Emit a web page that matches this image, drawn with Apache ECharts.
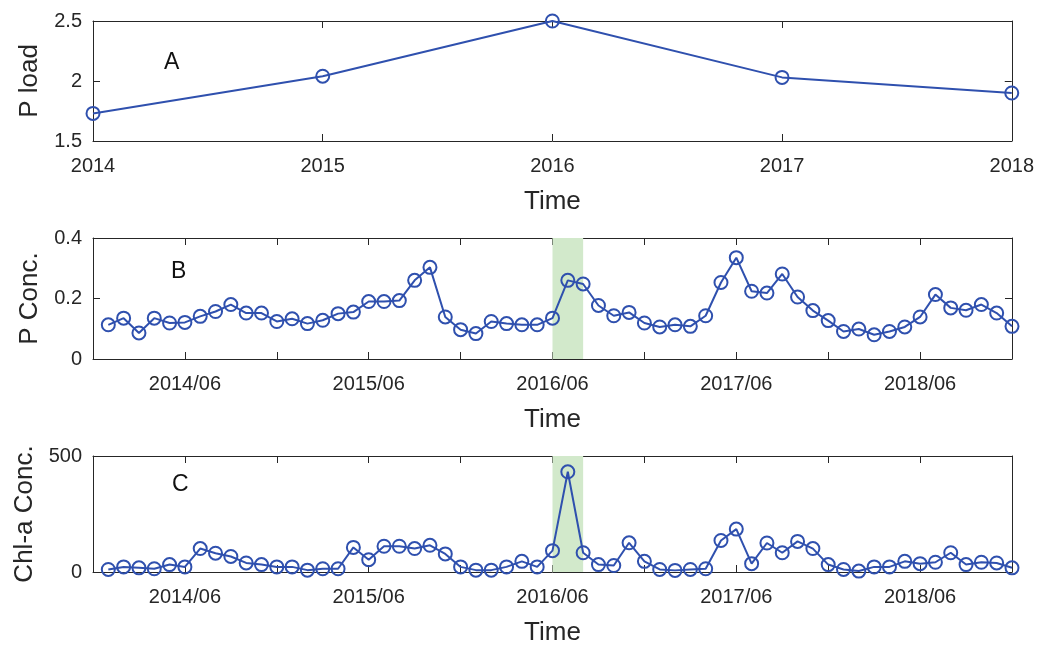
<!DOCTYPE html>
<html>
<head>
<meta charset="utf-8">
<script src="https://cdn.jsdelivr.net/npm/echarts@6/dist/echarts.min.js"></script>
<style>
html,body{margin:0;padding:0;background:#fff;}
#chart{width:1037px;height:647px;}
</style>
</head>
<body>
<div id="chart"></div>
<script>
// ---- data ----
const years = [2014, 2015, 2016, 2017, 2018];
const pLoad = [1.73, 2.04, 2.50, 2.03, 1.90];

// monthly values, Jan 2014 .. Dec 2018
const pConc = [
  0.113, 0.135, 0.086, 0.135, 0.119, 0.121, 0.141, 0.157, 0.180, 0.152,
  0.152, 0.124, 0.133, 0.117, 0.128, 0.150, 0.155, 0.190, 0.190, 0.193,
  0.260, 0.303, 0.139, 0.097, 0.084, 0.124, 0.117, 0.113, 0.113, 0.135,
  0.260, 0.248, 0.177, 0.143, 0.154, 0.119, 0.106, 0.113, 0.108, 0.143,
  0.253, 0.335, 0.224, 0.218, 0.281, 0.205, 0.160, 0.127, 0.091, 0.099,
  0.080, 0.091, 0.106, 0.139, 0.213, 0.169, 0.161, 0.180, 0.152, 0.108
];
const chlConc = [
  11, 22, 18, 14, 32, 22, 101, 81, 67, 39,
  32, 22, 22, 8, 14, 14, 106, 53, 111, 111,
  101, 115, 78, 22, 8, 8, 22, 46, 22, 92,
  432, 83, 32, 28, 126, 46, 11, 7, 11, 14,
  136, 185, 36, 125, 83, 132, 101, 32, 11, 4,
  22, 22, 46, 36, 42, 83, 32, 42, 39, 18
];
// x positions are months since Dec 2013
const monthTickLabels = ['2014/06', '2015/06', '2016/06', '2017/06', '2018/06'];
const bandMonths = [30, 32]; // Jun 2016 .. Aug 2016
const yTicksA = ['1.5', '2', '2.5'];
const yTicksB = ['0', '0.2', '0.4'];
const yTicksC = ['0', '500'];

// ---- styles ----
const FONT = 'Liberation Sans, Arial, sans-serif';
const AX = '#262626';
const BLUE = '#2F50AE';

const grids = [
  {left: 93, top: 21, width: 919, height: 120},
  {left: 93, top: 238, width: 919, height: 121},
  {left: 93, top: 456, width: 919, height: 120}
];

function xBottom(gi, cfg) {
  return Object.assign({
    type: 'value', gridIndex: gi, position: 'bottom',
    axisLine: {show: true, onZero: false, lineStyle: {color: AX, width: 1}},
    axisTick: {show: true, inside: true, length: 7, lineStyle: {color: AX}},
    splitLine: {show: false},
    name: 'Time', nameLocation: 'middle', nameGap: 48,
    nameTextStyle: {color: AX, fontSize: 26, fontFamily: FONT}
  }, cfg);
}
function xTop(gi, cfg) {
  return Object.assign({
    type: 'value', gridIndex: gi, position: 'top',
    axisLine: {show: true, onZero: false, lineStyle: {color: AX, width: 1}},
    axisTick: {show: true, inside: true, length: 7, lineStyle: {color: AX}},
    splitLine: {show: false}, axisLabel: {show: false}
  }, cfg);
}
function yLeft(gi, cfg, labels, name) {
  return Object.assign({
    type: 'value', gridIndex: gi, position: 'left',
    axisLine: {show: true, onZero: false, lineStyle: {color: AX, width: 1}},
    axisTick: {show: true, inside: true, length: 7, lineStyle: {color: AX}},
    splitLine: {show: false},
    axisLabel: {color: AX, fontSize: 20, fontFamily: FONT, margin: 11,
      formatter: function (v) {
        const i = Math.round((v - cfg.min) / cfg.interval);
        return labels[i] !== undefined ? labels[i] : '';
      }},
    name: name, nameLocation: 'middle', nameGap: 50, nameRotate: 90,
    nameTextStyle: {color: AX, fontSize: 26, fontFamily: FONT}
  }, cfg);
}
function yRight(gi, cfg) {
  return Object.assign({
    type: 'value', gridIndex: gi, position: 'right',
    axisLine: {show: true, onZero: false, lineStyle: {color: AX, width: 1}},
    axisTick: {show: true, inside: true, length: 7, lineStyle: {color: AX}},
    splitLine: {show: false}, axisLabel: {show: false}
  }, cfg);
}

const monthX = {min: 0, max: 60, interval: 6};
const monthLabelFmt = function (v) {
  if (v % 12 === 6) {
    const i = (v - 6) / 12;
    return monthTickLabels[i] || '';
  }
  return '';
};
const xLabelBase = {color: AX, fontSize: 20, fontFamily: FONT, margin: 15, showMinLabel: true, showMaxLabel: true};

const yCfgA = {min: 1.5, max: 2.5, interval: 0.5};
const yCfgB = {min: 0, max: 0.4, interval: 0.2};
const yCfgC = {min: 0, max: 500, interval: 500};

const seriesStyle = {
  type: 'line', symbol: 'circle', symbolSize: 13, clip: false,
  lineStyle: {color: BLUE, width: 2},
  itemStyle: {color: 'rgba(0,0,0,0)', borderColor: BLUE, borderWidth: 2},
  emphasis: {disabled: true}, animation: false, z: 5
};
const band = {
  silent: true,
  itemStyle: {color: '#d2e9cb'},
  data: [[{xAxis: bandMonths[0]}, {xAxis: bandMonths[1]}]]
};

const option = {
  backgroundColor: '#fff',
  animation: false,
  grid: grids,
  xAxis: [
    xBottom(0, {min: years[0], max: years[years.length - 1], interval: 1,
      axisLabel: Object.assign({}, xLabelBase, {formatter: function (v) { return String(v); }})}),
    xTop(0, {min: years[0], max: years[years.length - 1], interval: 1}),
    xBottom(1, Object.assign({}, monthX, {axisLabel: Object.assign({}, xLabelBase, {formatter: monthLabelFmt})})),
    xTop(1, monthX),
    xBottom(2, Object.assign({}, monthX, {axisLabel: Object.assign({}, xLabelBase, {formatter: monthLabelFmt})})),
    xTop(2, monthX)
  ],
  yAxis: [
    yLeft(0, yCfgA, yTicksA, 'P load'),
    yRight(0, yCfgA),
    yLeft(1, yCfgB, yTicksB, 'P Conc.'),
    yRight(1, yCfgB),
    yLeft(2, yCfgC, yTicksC, 'Chl-a Conc.'),
    yRight(2, yCfgC)
  ],
  series: [
    Object.assign({}, seriesStyle, {xAxisIndex: 0, yAxisIndex: 0,
      data: years.map((y, i) => [y, pLoad[i]])}),
    Object.assign({}, seriesStyle, {xAxisIndex: 2, yAxisIndex: 2,
      data: pConc.map((v, i) => [i + 1, v]), markArea: band}),
    Object.assign({}, seriesStyle, {xAxisIndex: 4, yAxisIndex: 4,
      data: chlConc.map((v, i) => [i + 1, v]), markArea: band})
  ],
  graphic: [
    {type: 'text', left: 164, top: 51, style: {text: 'A', fontSize: 23, fontFamily: FONT, fill: '#111'}},
    {type: 'text', left: 171, top: 260, style: {text: 'B', fontSize: 23, fontFamily: FONT, fill: '#111'}},
    {type: 'text', left: 172, top: 473, style: {text: 'C', fontSize: 23, fontFamily: FONT, fill: '#111'}}
  ]
};

const chart = echarts.init(document.getElementById('chart'), null, {renderer: 'canvas'});
chart.setOption(option);
</script>
</body>
</html>
